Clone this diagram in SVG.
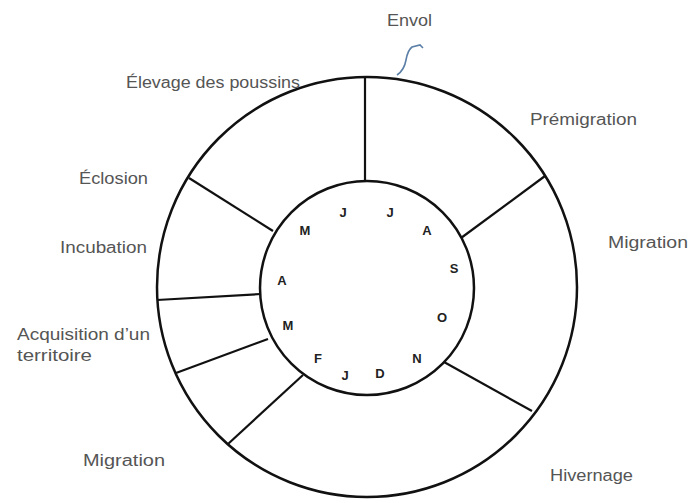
<svg xmlns="http://www.w3.org/2000/svg" width="690" height="503" viewBox="0 0 690 503">
<style>
.ring{fill:none;stroke:#111;stroke-width:2.5}
.spoke{stroke:#111;stroke-width:2.2}
.lbl{font-family:"Liberation Sans",Arial,sans-serif;font-size:16px;fill:#555}
.mo{font-family:"Liberation Sans",Arial,sans-serif;font-size:13px;font-weight:bold;fill:#222;text-anchor:middle}
</style>
<rect width="690" height="503" fill="#fff"/>
<g id="outer-ring"><circle class="ring" cx="367" cy="287" r="210"/></g>
<g id="inner-ring"><circle class="ring" cx="367" cy="288" r="107"/></g>
<g id="connectors">
<line class="spoke" x1="365" y1="77" x2="365" y2="181"/>
<line class="spoke" x1="545" y1="176" x2="461" y2="238"/>
<line class="spoke" x1="532" y1="411" x2="444" y2="362"/>
<line class="spoke" x1="228" y1="444" x2="303" y2="375"/>
<line class="spoke" x1="176" y1="373" x2="268" y2="339"/>
<line class="spoke" x1="157" y1="300" x2="261" y2="294"/>
<line class="spoke" x1="189" y1="178" x2="273" y2="231"/>
<path d="M397,75 C403,71 405,66 406,60 C407,54 408,50 412,47 L420,45 L423,48" fill="none" stroke="#5b7fa6" stroke-width="1.6"/>
</g>
<g id="labels">
<text class="lbl" x="387" y="26" textLength="45" lengthAdjust="spacingAndGlyphs">Envol</text>
<text class="lbl" x="126" y="88" textLength="174" lengthAdjust="spacingAndGlyphs">Élevage des poussins</text>
<text class="lbl" x="79" y="184" textLength="69" lengthAdjust="spacingAndGlyphs">Éclosion</text>
<text class="lbl" x="60" y="253" textLength="87" lengthAdjust="spacingAndGlyphs">Incubation</text>
<text class="lbl" x="17" y="340" textLength="133" lengthAdjust="spacingAndGlyphs">Acquisition d’un</text>
<text class="lbl" x="17" y="361" textLength="75" lengthAdjust="spacingAndGlyphs">territoire</text>
<text class="lbl" x="83" y="466" textLength="82" lengthAdjust="spacingAndGlyphs">Migration</text>
<text class="lbl" x="530" y="125" textLength="107" lengthAdjust="spacingAndGlyphs">Prémigration</text>
<text class="lbl" x="608" y="248" textLength="80" lengthAdjust="spacingAndGlyphs">Migration</text>
<text class="lbl" x="550" y="481" textLength="83" lengthAdjust="spacingAndGlyphs">Hivernage</text>
</g>
<g id="months">
<text class="mo" x="305" y="235">M</text>
<text class="mo" x="343" y="217">J</text>
<text class="mo" x="390" y="217">J</text>
<text class="mo" x="427" y="235">A</text>
<text class="mo" x="454" y="273">S</text>
<text class="mo" x="442" y="322">O</text>
<text class="mo" x="417" y="363">N</text>
<text class="mo" x="380" y="378">D</text>
<text class="mo" x="345" y="380">J</text>
<text class="mo" x="318" y="363">F</text>
<text class="mo" x="288" y="330">M</text>
<text class="mo" x="282" y="285">A</text>
</g>
</svg>
